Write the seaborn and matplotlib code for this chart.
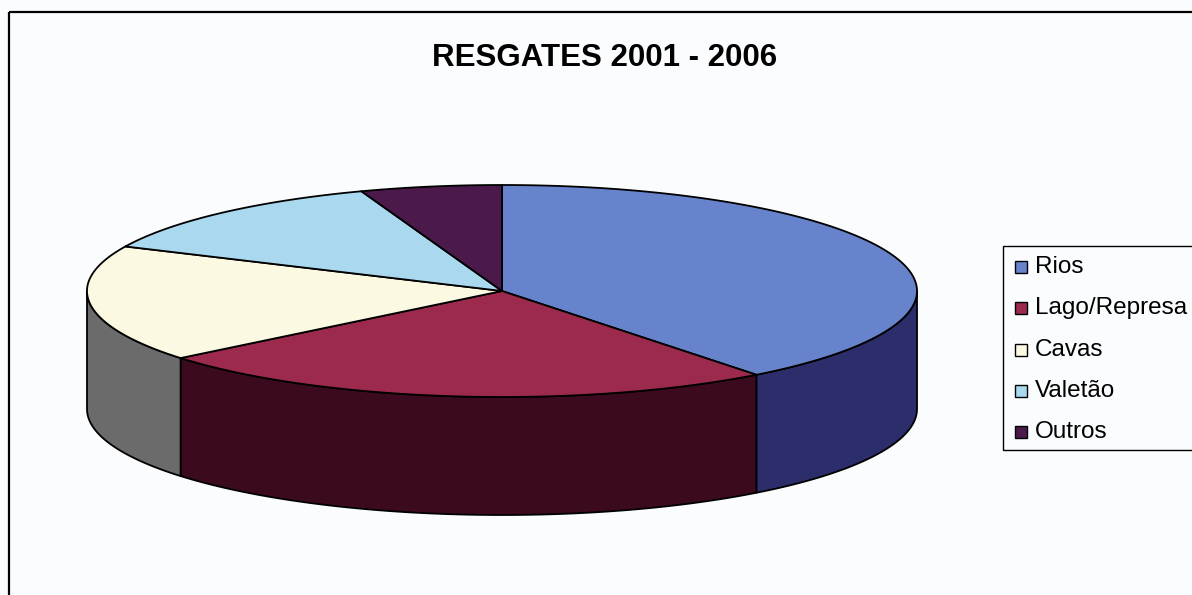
import numpy as np
import matplotlib
matplotlib.use("Agg")
import matplotlib.pyplot as plt
from matplotlib.patches import Polygon, Rectangle
import seaborn as sns

# ---- data ----
categories = ["Rios", "Lago/Represa", "Cavas", "Valetão", "Outros"]
values = [39.5, 24.6, 17.8, 12.6, 5.5]
top_colors = ["#6683CC", "#9C2A4C", "#FBF9E2", "#A9D8EF", "#4B1A4B"]
side_colors = ["#2C2E6C", "#3B0A1E", "#6B6B6B", "#6A8FA0", "#2A0A2A"]
title = "RESGATES 2001 - 2006"

sns.set_theme(style="white")
plt.rcParams["font.family"] = ["Liberation Sans", "DejaVu Sans"]

W, H = 1192, 595
fig = plt.figure(figsize=(W / 100, H / 100), dpi=100)
fig.patch.set_facecolor("#FAFCFD")
ax = fig.add_axes([0, 0, 1, 1])
ax.set_xlim(0, W)
ax.set_ylim(H, 0)
ax.axis("off")
ax.set_facecolor("#FAFCFD")

# geometry (layout)
cx, cy, rx, ry, depth = 502, 291, 415, 106, 118


def pt(theta_deg, dz=0.0):
    t = np.deg2rad(theta_deg)
    return cx + rx * np.sin(t), cy - ry * np.cos(t) + dz


vals = np.array(values, dtype=float)
angles = np.concatenate([[0], np.cumsum(vals / vals.sum() * 360.0)])

# side faces (front half: 90..270 degrees clockwise from top)
for i in range(len(vals)):
    a0, a1 = max(angles[i], 90), min(angles[i + 1], 270)
    if a1 <= a0:
        continue
    ts = np.linspace(a0, a1, 120)
    topx, topy = pt(ts)
    botx, boty = pt(ts[::-1], depth)
    poly = np.column_stack([np.concatenate([topx, botx]),
                            np.concatenate([topy, boty])])
    ax.add_patch(Polygon(poly, closed=True, facecolor=side_colors[i],
                         edgecolor="black", linewidth=1.3, joinstyle="round"))

# top wedges
for i in range(len(vals)):
    ts = np.linspace(angles[i], angles[i + 1], 200)
    x, y = pt(ts)
    poly = np.column_stack([np.concatenate([[cx], x]),
                            np.concatenate([[cy], y])])
    ax.add_patch(Polygon(poly, closed=True, facecolor=top_colors[i],
                         edgecolor="black", linewidth=1.3, joinstyle="round"))

# title
ax.text(605, 58, title, ha="center", va="center", fontsize=22.5,
        fontweight="bold", color="black")

# outer frame lines (top and left)
ax.plot([9, W], [12, 12], color="black", lw=1.6, solid_capstyle="butt")
ax.plot([9, 9], [12, H], color="black", lw=1.6, solid_capstyle="butt")

# legend (manual)
ax.add_patch(Rectangle((1003, 246), 200, 204, facecolor="none",
                       edgecolor="black", linewidth=1.0))
y0, dy = 267, 41.3
for i, name in enumerate(categories):
    yy = y0 + i * dy
    ax.add_patch(Rectangle((1015, yy - 6), 12, 12, facecolor=top_colors[i],
                           edgecolor="black", linewidth=1.0))
    ax.text(1035, yy, name, ha="left", va="center", fontsize=17.5,
            color="black")

fig.savefig("out.png", dpi=100, facecolor=fig.get_facecolor())
